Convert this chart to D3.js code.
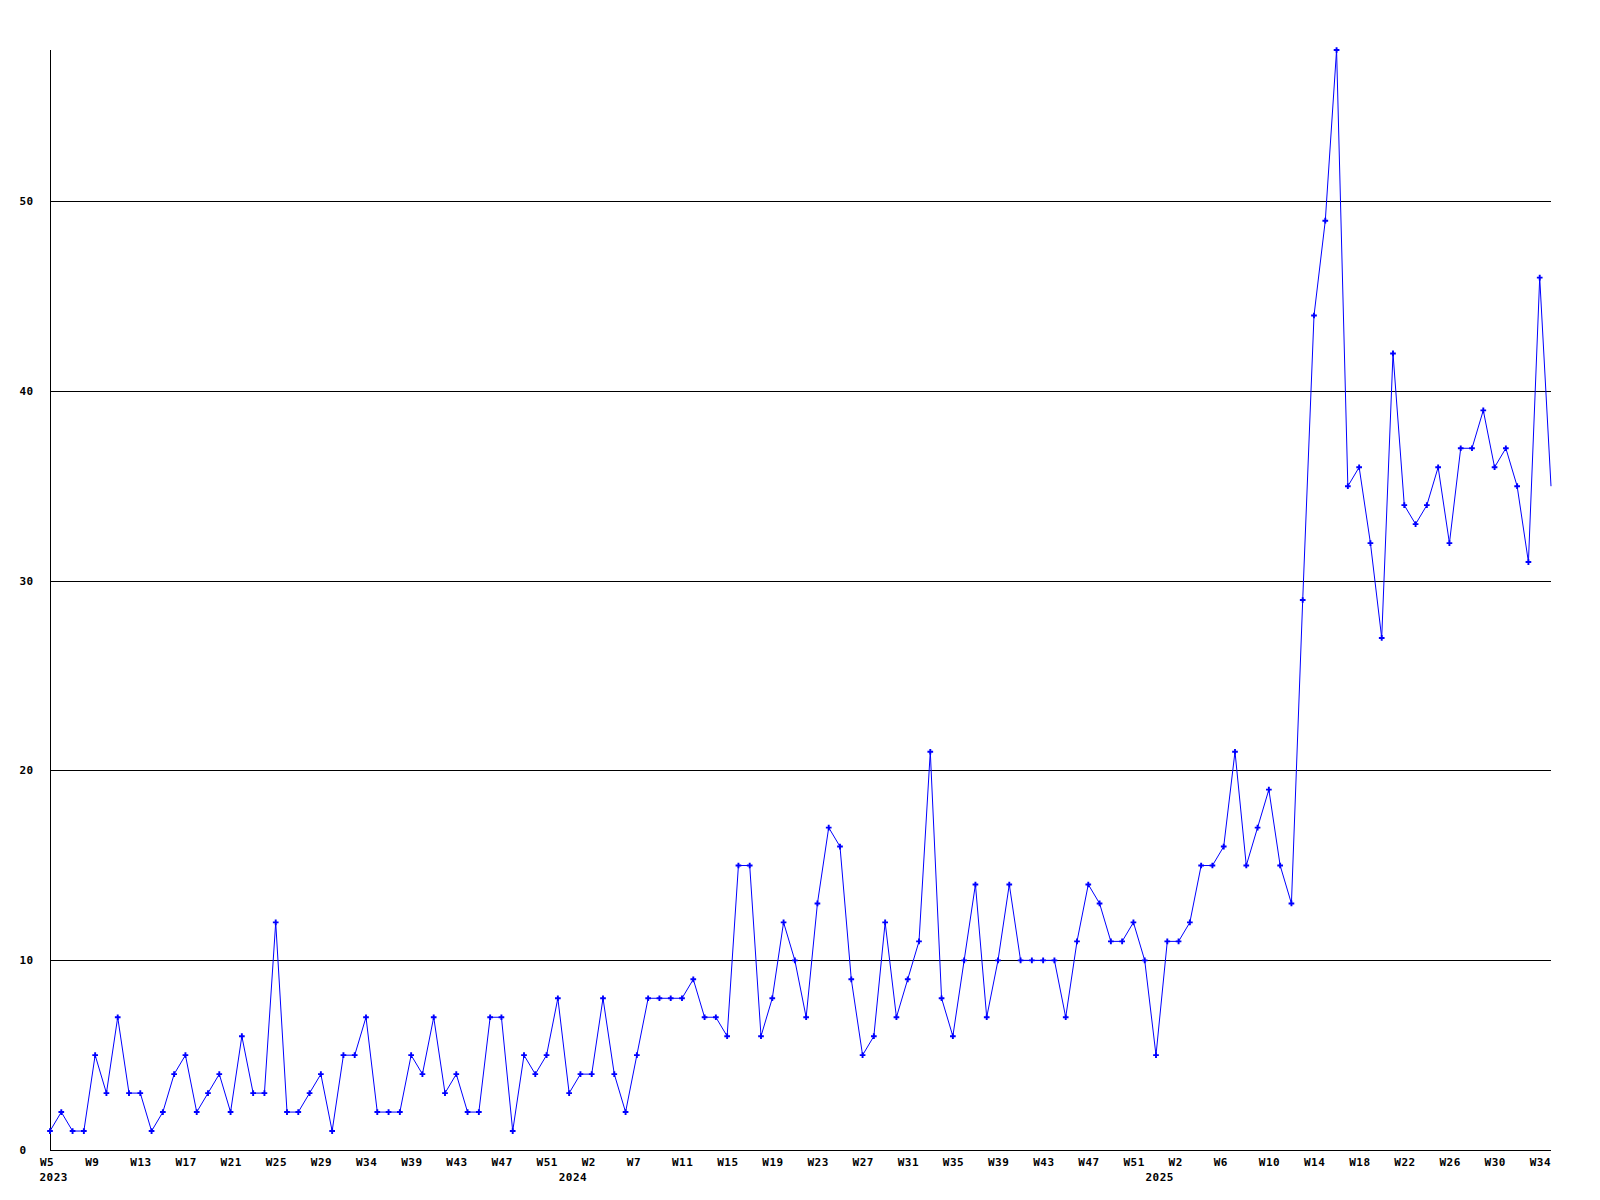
<!DOCTYPE html>
<html>
<head>
<meta charset="utf-8">
<script src="https://cdn.jsdelivr.net/npm/d3@7"></script>
<style>
  html, body { margin: 0; padding: 0; background: #fff; }
  svg { display: block; }
  text { font-family: "DejaVu Sans Mono", "Liberation Mono", monospace; font-weight: bold; font-size: 11px; letter-spacing: 0.5px; fill: #000; }
</style>
</head>
<body>
<script>
// ---- data ----
const values = [
  1,2,1,1,5,3,7,3,3,1,2,4,5,2,3,4,2,6,3,3,12,2,2,3,4,1,5,5,7,2,2,2,
  5,4,7,3,4,2,2,7,7,1,5,4,5,8,3,4,4,8,4,2,5,8,8,8,8,9,7,7,6,
  15,15,6,8,12,10,7,13,17,16,9,5,6,12,7,9,11,21,8,6,10,14,7,10,14,10,10,10,10,7,11,14,13,
  11,11,12,10,5,11,11,12,15,15,16,21,15,17,19,15,13,
  29,44,49,58,35,36,32,27,42,34,33,34,36,32,37,37,39,36,37,35,31,46,35
];
const weekTickLabels = [
  "W5","W9","W13","W17","W21","W25","W29","W34","W39","W43","W47","W51",
  "W2","W7","W11","W15","W19","W23","W27","W31","W35","W39","W43","W47","W51",
  "W2","W6","W10","W14","W18","W22","W26","W30","W34"
];
const tickEvery = 4;
const yearLabels = ["2023","2024","2025"];
const yearStartIndex = [0, 46, 98];
const yTicks = [0,10,20,30,40,50];
const yMax = 58;

(function () {
  // ---- layout ----
  const W = 1600, H = 1200;
  const mLeft = 50, mRight = 1551, mTop = 50, mBottom = 1150;

  const svg = d3.select("body").append("svg").attr("width", W).attr("height", H);

  const idx = d3.range(values.length);
  const x = d3.scalePoint().domain(idx).range([mLeft, mRight]);
  const y = d3.scaleLinear().domain([0, yMax]).range([mBottom, mTop]);

  const crisp = v => Math.round(v) + 0.5;

  // y gridlines + labels via axis
  const yAxis = d3.axisLeft(y).tickValues(yTicks).tickSize(0).tickFormat(d3.format("d"));
  const gy = svg.append("g").attr("transform", `translate(${mLeft},0)`).call(yAxis);
  gy.select(".domain").remove();
  gy.selectAll(".tick text")
    .attr("x", 19.5 - mLeft)
    .attr("dy", "0.36em")
    .attr("text-anchor", "start");
  gy.attr("font-family", null).attr("font-size", null);
  gy.selectAll(".tick").filter(d => d > 0).append("line")
    .attr("x1", 0).attr("x2", mRight - mLeft)
    .attr("y1", 0.5).attr("y2", 0.5)
    .attr("stroke", "#000").attr("stroke-width", 1)
    .attr("shape-rendering", "crispEdges");
  gy.selectAll(".tick").attr("transform", d => `translate(0,${Math.floor(y(d))})`);

  // axes lines
  svg.append("line").attr("x1", crisp(mLeft)).attr("x2", crisp(mLeft))
    .attr("y1", mTop).attr("y2", crisp(mBottom))
    .attr("stroke", "#000").attr("shape-rendering", "crispEdges");
  svg.append("line").attr("x1", crisp(mLeft)).attr("x2", mRight)
    .attr("y1", crisp(mBottom)).attr("y2", crisp(mBottom))
    .attr("stroke", "#000").attr("shape-rendering", "crispEdges");

  // x tick labels via axis
  const tickIdx = weekTickLabels.map((_, i) => i * tickEvery);
  const xAxis = d3.axisBottom(x).tickValues(tickIdx).tickSize(0)
    .tickFormat((d, i) => weekTickLabels[i]);
  const gx = svg.append("g").attr("transform", `translate(0,${mBottom})`).call(xAxis);
  gx.select(".domain").remove();
  gx.attr("font-family", null).attr("font-size", null);
  gx.selectAll(".tick text")
    .attr("x", -10.5).attr("y", 16).attr("dy", null)
    .attr("text-anchor", "start");

  // year labels
  svg.append("g").selectAll("text").data(yearLabels).join("text")
    .attr("x", (d, i) => x(yearStartIndex[i]) - 10.5)
    .attr("y", mBottom + 31)
    .attr("text-anchor", "start")
    .text(d => d);

  // line
  const line = d3.line().x((d, i) => x(i)).y(d => y(d));
  svg.append("path").datum(values)
    .attr("d", line)
    .attr("fill", "none")
    .attr("stroke", "#0000ff")
    .attr("stroke-width", 1);

  // markers (last point sits on the frame edge, no marker)
  const cross = d3.symbol().type(d3.symbolCross).size(18);
  svg.append("g").selectAll("path").data(values.slice(0, values.length - 1)).join("path")
    .attr("transform", (d, i) => `translate(${x(i)},${y(d)})`)
    .attr("d", cross)
    .attr("fill", "#0000ff");
})();
</script>
</body>
</html>
